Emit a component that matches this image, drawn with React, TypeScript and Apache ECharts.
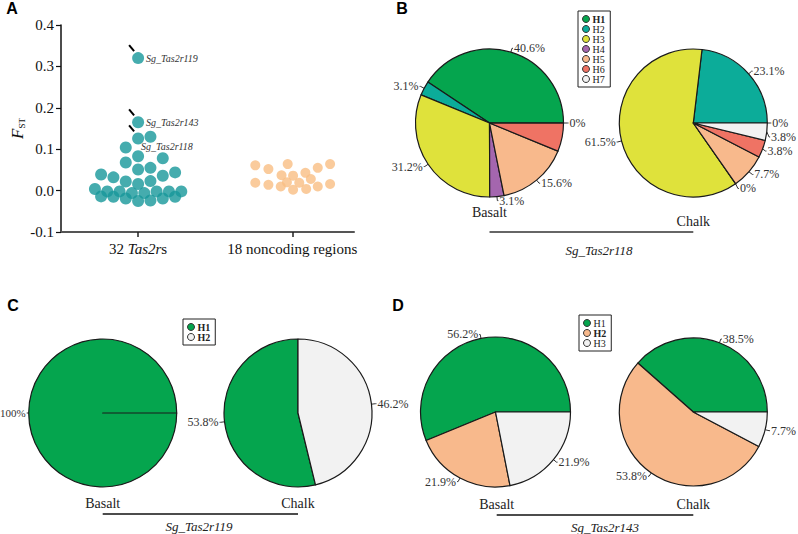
import React, { useEffect, useRef } from "react";
import * as echarts from "echarts";

const SERIF = "Liberation Serif, Times New Roman, Times, serif";
const SANS = "Liberation Sans, Arial, Helvetica, sans-serif";

// ---------- Panel A data ----------
const yTicks = [-0.1, 0, 0.1, 0.2, 0.3, 0.4];
const groupPositions = [1, 3];
const groupLabels = ["32 {i|Tas2r}s", "18 noncoding regions"];

const tas2rX = [1.0, 1.0, 1.0, 1.16, 0.84, 1.0, 1.32, 0.84, 1.0, 1.16, 1.32, 1.48, 0.52, 0.68, 0.84, 1.0, 1.16,
  0.44, 0.6, 0.76, 0.92, 1.08, 1.24, 1.4, 1.56, 0.52, 0.68, 0.84, 1.0, 1.16, 1.32, 1.48];
const tas2rY = [0.32, 0.165, 0.126, 0.13, 0.104, 0.083, 0.078, 0.068, 0.051, 0.055, 0.036, 0.044, 0.039, 0.032, 0.022, 0.016, 0.023,
  0.004, -0.002, -0.002, -0.006, -0.006, -0.002, -0.002, -0.002, -0.014, -0.015, -0.019, -0.025, -0.024, -0.019, -0.015];

const noncodingX = [2.52, 2.69, 2.94, 3.33, 3.49, 2.86, 3.01, 3.17, 3.24, 2.52, 2.69, 2.85, 2.93, 3.01, 3.09, 3.18, 3.33, 3.49];
const noncodingY = [0.061, 0.052, 0.064, 0.055, 0.064, 0.037, 0.036, 0.043, 0.028, 0.019, 0.014, 0.01, 0.02, 0.002, 0.019, 0.004, 0.01, 0.016];

const annotNames = ["Sg_Tas2r119", "Sg_Tas2r143", "Sg_Tas2r118"];
const annotX = [1, 1, 1];
const annotY = [0.32, 0.165, 0.126];
const annotOffsets = [[8, 0], [8, 0], [3, 8]];

// ---------- Pie data ----------
const hapB = ["H1", "H2", "H3", "H4", "H5", "H6", "H7"];
const colorsB = ["#05A54E", "#0CAC99", "#DFE23B", "#A466AE", "#F8B98C", "#EF7364", "#F2F2F2"];
const basaltB = [40.6, 3.1, 31.2, 3.1, 15.6, 6.2, 0];
const chalkB = [0, 23.1, 61.5, 0, 7.7, 3.8, 3.8];

const hapC = ["H1", "H2"];
const colorsC = ["#05A54E", "#F2F2F2"];
const basaltC = [100, 0];
const chalkC = [53.8, 46.2];

const hapD = ["H1", "H2", "H3"];
const colorsD = ["#05A54E", "#F8B98C", "#F2F2F2"];
const basaltD = [56.2, 21.9, 21.9];
const chalkD = [38.5, 53.8, 7.7];

const R = 74;

function pieSeries(
  center: number[],
  names: string[],
  values: number[],
  colors: string[],
  startAngle: number,
  radius = R,
  extra: any = {}
) {
  return {
    type: "pie",
    center,
    radius,
    startAngle,
    clockwise: false,
    silent: true,
    avoidLabelOverlap: true,
    minShowLabelAngle: 0,
    data: names.map((n, i) => ({ name: n, value: values[i], itemStyle: { color: colors[i] } })),
    itemStyle: { borderColor: "#1a1a1a", borderWidth: 1.2 },
    label: {
      show: true,
      position: "outside",
      formatter: (p: any) => `${p.value}%`,
      fontFamily: SERIF,
      fontSize: extra.fontSize ?? 12,
      color: "#333",
      overflow: "none",
      distanceToLabelLine: 1,
      edgeDistance: 0,
    },
    labelLine: {
      show: true,
      length: extra.length ?? 4,
      length2: extra.length2 ?? 1,
      lineStyle: { color: "#333", width: 1 },
    },
    emphasis: { disabled: true },
  };
}

function legendData(names: string[], colors: string[], bold: string[]) {
  return names.map((n, i) => ({
    name: n,
    itemStyle: { color: colors[i], borderColor: "#333", borderWidth: 1 },
    textStyle: { fontWeight: bold.includes(n) ? "bold" : "normal" },
  }));
}

function legend(left: number, top: number, data: any[], lineHeight: number) {
  return {
    orient: "vertical",
    left,
    top,
    icon: "circle",
    itemWidth: 7,
    itemHeight: 7,
    itemGap: 0,
    padding: [3, 5, 3, 4],
    borderColor: "#222",
    borderWidth: 1,
    selectedMode: false,
    textStyle: { fontFamily: SERIF, fontSize: 10, color: "#222", lineHeight, padding: [0, 0, 0, -2] },
    data,
  };
}

function txt(x: number, y: number, text: string, font: any) {
  return { type: "text", x, y, style: { text, align: "center", verticalAlign: "middle", fill: "#222", ...font } };
}

function hline(x1: number, x2: number, y: number, stroke: string, lineWidth: number) {
  return { type: "line", shape: { x1, y1: y, x2, y2: y }, style: { stroke, lineWidth } };
}

const B_BASALT = [489.5, 123];
const B_CHALK = [693.3, 123];
const C_BASALT = [102.7, 413];
const C_CHALK = [298, 413];
const D_BASALT = [495.5, 412];
const D_CHALK = [693.3, 412];

export default function App() {
  const ref = useRef<HTMLDivElement>(null);
  useEffect(() => {
    document.body.style.margin = "0";
    const chart = echarts.init(ref.current!, null, { renderer: "svg" });
    const capFont = { fontFamily: SERIF, fontSize: 14 };
    const italFont = { fontFamily: SERIF, fontSize: 13, fontStyle: "italic" };
    const letterFont = { fontFamily: SANS, fontSize: 16, fontWeight: "bold", fill: "#000" };
    const option: any = {
      animation: false,
      backgroundColor: "#fff",
      textStyle: { fontFamily: SERIF },
      grid: { left: 61, top: 25, width: 293, height: 207 },
      xAxis: {
        type: "value",
        min: 0,
        max: 3.8,
        splitLine: { show: false },
        axisLine: { onZero: false, lineStyle: { color: "#555", width: 2 } },
        axisTick: { show: true, customValues: groupPositions, length: 5, lineStyle: { color: "#222", width: 1.5 } },
        axisLabel: {
          customValues: groupPositions,
          formatter: (v: number) => groupLabels[groupPositions.indexOf(v)] ?? "",
          fontFamily: SERIF,
          fontSize: 15,
          color: "#111",
          margin: 9,
          rich: { i: { fontStyle: "italic", fontFamily: SERIF, fontSize: 15, color: "#111" } },
        },
      },
      yAxis: {
        type: "value",
        min: yTicks[0],
        max: yTicks[yTicks.length - 1],
        interval: 0.1,
        splitLine: { show: false },
        axisLine: { show: true, onZero: false, lineStyle: { color: "#111", width: 1.5 } },
        axisTick: { show: true, length: 5, lineStyle: { color: "#111", width: 1.2 } },
        axisLabel: { formatter: (v: number) => v.toFixed(1), fontFamily: SERIF, fontSize: 15, color: "#111", margin: 7 },
        name: "{f|F}{s|ST}",
        nameLocation: "middle",
        nameRotate: 90,
        nameGap: 33,
        nameTextStyle: {
          rich: {
            f: { fontFamily: SERIF, fontStyle: "italic", fontSize: 17, lineHeight: 18, color: "#111" },
            s: { fontFamily: SERIF, fontSize: 9, verticalAlign: "bottom", lineHeight: 12, color: "#111" },
          },
        },
      },
      legend: [
        legend(578, 11, legendData(hapB, colorsB, ["H1"]), 9),
        legend(183, 319, legendData(hapC, colorsC, ["H1", "H2"]), 10),
        legend(579, 315, legendData(hapD, colorsD, ["H2"]), 10),
      ],
      series: [
        {
          type: "scatter",
          name: "32 Tas2rs",
          symbolSize: 12,
          itemStyle: { color: "#17979A" },
          data: tas2rX.map((x, i) => [x, tas2rY[i]]),
          silent: true,
        },
        {
          type: "scatter",
          name: "18 noncoding regions",
          symbolSize: 10,
          itemStyle: { color: "#F9BE83" },
          data: noncodingX.map((x, i) => [x, noncodingY[i]]),
          silent: true,
        },
        {
          type: "custom",
          coordinateSystem: "cartesian2d",
          silent: true,
          data: annotX.map((x, i) => [x, annotY[i], i]),
          encode: { x: 0, y: 1 },
          renderItem: (params: any, api: any) => {
            const p = api.coord([api.value(0), api.value(1)]);
            const i = api.value(2);
            const off = annotOffsets[i];
            return {
              type: "group",
              children: [
                { type: "line", shape: { x1: p[0] - 9, y1: p[1] - 13, x2: p[0] - 4, y2: p[1] - 7 }, style: { stroke: "#000", lineWidth: 2 } },
                {
                  type: "text",
                  x: p[0] + off[0],
                  y: p[1] + off[1],
                  style: { text: annotNames[i], fontFamily: SERIF, fontSize: 10, fontStyle: "italic", fill: "#333", align: "left", verticalAlign: "middle" },
                },
              ],
            };
          },
        },
        pieSeries(B_BASALT, hapB, basaltB, colorsB, 0),
        pieSeries(B_CHALK, hapB, chalkB, colorsB, 0),
        pieSeries(C_BASALT, hapC, basaltC, colorsC, 0, R, { fontSize: 11, length: 2, length2: 0 }),
        pieSeries(C_CHALK, hapC, chalkC, colorsC, 90),
        pieSeries(D_BASALT, hapD, basaltD, colorsD, 0, 75),
        pieSeries(D_CHALK, hapD, chalkD, colorsD, 0),
      ],
      graphic: [
        txt(12, 8, "A", letterFont),
        txt(402, 8, "B", letterFont),
        txt(13, 305, "C", letterFont),
        txt(398, 305, "D", letterFont),
        txt(B_BASALT[0], 212, "Basalt", capFont),
        txt(B_CHALK[0], 221, "Chalk", capFont),
        hline(B_BASALT[0], B_CHALK[0], 232, "#666", 2),
        txt(599, 250, "Sg_Tas2r118", italFont),
        txt(C_BASALT[0], 503, "Basalt", capFont),
        txt(C_CHALK[0], 503, "Chalk", capFont),
        hline(C_BASALT[0], C_CHALK[0], 514, "#111", 1.3),
        txt(199, 526, "Sg_Tas2r119", italFont),
        txt(496.7, 504, "Basalt", capFont),
        txt(D_CHALK[0], 504, "Chalk", capFont),
        hline(496.7, D_CHALK[0], 515, "#111", 1.3),
        txt(605, 527, "Sg_Tas2r143", italFont),
        hline(C_BASALT[0], C_BASALT[0] + R, C_BASALT[1], "#1a1a1a", 1.2),
      ],
    };
    chart.setOption(option);
    return () => chart.dispose();
  }, []);
  return <div ref={ref} style={{ width: 798, height: 534 }} />;
}
